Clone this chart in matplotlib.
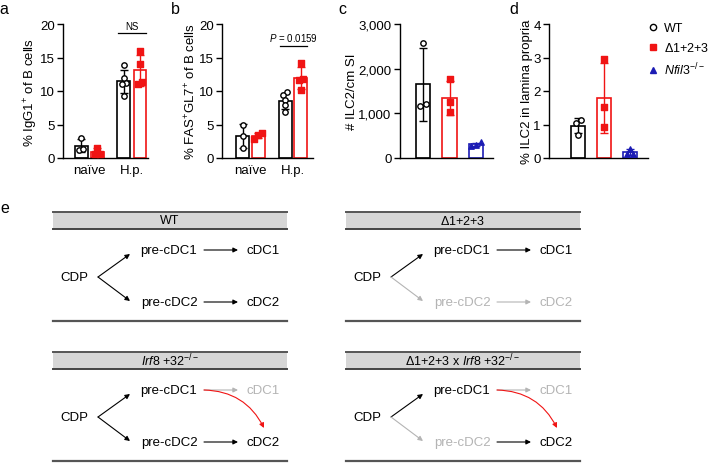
import matplotlib
matplotlib.use('Agg')
import matplotlib.pyplot as plt
import numpy as np
from matplotlib.lines import Line2D
from matplotlib.patches import Rectangle
from matplotlib.ticker import FuncFormatter

plt.rcParams['font.family'] = ['Liberation Sans', 'DejaVu Sans']
plt.rcParams['mathtext.fontset'] = 'custom'
plt.rcParams['mathtext.rm'] = 'Liberation Sans'
plt.rcParams['mathtext.it'] = 'Liberation Sans:italic'

# ---- data ----
groups_ab = ['naïve', 'H.p.']
# panel a: % IgG1+ of B cells
a_wt = [[3.0, 1.2, 1.3], [13.9, 11.9, 11.2, 11.0, 9.2]]
a_mut = [[1.5, 0.6, 0.6], [15.9, 14.0, 11.1, 11.3]]
# panel b: % FAS+GL7+ of B cells
b_wt = [[5.0, 3.3, 1.5], [9.8, 9.4, 8.7, 7.9, 6.9]]
b_mut = [[3.7, 3.4, 2.9], [14.2, 11.8, 11.6, 10.2]]
# panel c: # ILC2/cm SI
c_wt = [2580, 1160, 1200]
c_mut = [1770, 1250, 1020]
c_ko = [350, 290, 270]
# panel d: % ILC2 in lamina propria
d_wt = [1.12, 1.05, 0.70]
d_mut = [2.95, 1.52, 0.92]
d_ko = [0.28, 0.13, 0.12]

genotypes = ['WT', r'$\Delta$1+2+3', r'$\it{Nfil3}^{-/-}$']

RED = '#f01414'
BLUE = '#1c1cb4'
GREY = '#b4b4b4'
colors = ['black', RED, BLUE]
markers = ['o', 's', '^']
faces = ['white', RED, BLUE]

W, H = 713, 464
fig = plt.figure(figsize=(W / 100, H / 100), dpi=100)


def px_axes(left, top, right, bottom):
    return fig.add_axes([left / W, 1 - bottom / H, (right - left) / W, (bottom - top) / H])


def jitter(vals, thr, step):
    # spread points that sit close together, Prism style
    offs = np.zeros(len(vals))
    order = np.argsort(vals)
    i = 0
    while i < len(order):
        j = i
        while j + 1 < len(order) and vals[order[j + 1]] - vals[order[j]] < thr:
            j += 1
        n = j - i + 1
        if n > 1:
            offs[order[i:j + 1]] = (np.arange(n) - (n - 1) / 2) * step
        i = j + 1
    return offs


def bar_group(ax, x, vals, i, width, thr, step):
    vals = np.asarray(vals, float)
    m, sd = vals.mean(), vals.std(ddof=1)
    ax.bar(x, m, width, facecolor='white', edgecolor=colors[i], lw=1.2, zorder=2)
    ax.errorbar(x, m, yerr=sd, color=colors[i], capsize=3, lw=1, capthick=1, zorder=3)
    ax.scatter(x + jitter(vals, thr, step), vals, s=15, marker=markers[i],
               facecolor=faces[i], edgecolor=colors[i], lw=1, zorder=4)


def style(ax, ymax, ystep):
    ax.spines['top'].set_visible(False)
    ax.spines['right'].set_visible(False)
    ax.spines['left'].set_linewidth(1)
    ax.spines['bottom'].set_linewidth(1)
    ax.set_ylim(0, ymax)
    ax.set_yticks(np.arange(0, ymax + ystep / 2, ystep))
    ax.tick_params(axis='y', direction='out', length=4, width=1, labelsize=9.5, pad=2)
    ax.tick_params(axis='x', length=0, labelsize=9.5, pad=4)


# ---- panel a ----
ax = px_axes(63, 25, 148, 159)
for g in range(2):
    bar_group(ax, g - 0.19, a_wt[g], 0, 0.3, 0.6, 0.1)
    bar_group(ax, g + 0.19, a_mut[g], 1, 0.3, 0.6, 0.1)
ax.set_xlim(-0.62, 1.38)
ax.set_xticks(range(2))
ax.set_xticklabels(groups_ab)
style(ax, 20, 5)
ax.set_ylabel('% IgG1$^{+}$ of B cells', fontsize=9.5, labelpad=0)
ax.plot([0.67, 1.33], [18.6, 18.6], color='black', lw=0.9)
ax.text(1.0, 18.9, 'NS', ha='center', va='bottom', fontsize=7)

# ---- panel b ----
ax = px_axes(222, 25, 313, 159)
for g in range(2):
    bar_group(ax, g - 0.18, b_wt[g], 0, 0.31, 0.6, 0.1)
    bar_group(ax, g + 0.18, b_mut[g], 1, 0.31, 0.6, 0.1)
ax.set_xlim(-0.67, 1.47)
ax.set_xticks(range(2))
ax.set_xticklabels(groups_ab)
style(ax, 20, 5)
ax.set_ylabel('% FAS$^{+}$GL7$^{+}$ of B cells', fontsize=9.5, labelpad=0)
ax.plot([0.69, 1.33], [16.7, 16.7], color='black', lw=0.9)
ax.text(1.01, 17.2, r'$\it{P}$ = 0.0159', ha='center', va='bottom', fontsize=7)

# ---- panel c ----
ax = px_axes(400, 25, 493, 159)
for i, vals in enumerate([c_wt, c_mut, c_ko]):
    bar_group(ax, i, vals, i, 0.55, 120, 0.2)
ax.set_xlim(-0.87, 2.64)
ax.set_xticks([])
style(ax, 3000, 1000)
ax.yaxis.set_major_formatter(FuncFormatter(lambda v, p: f'{int(v):,}'))
ax.set_ylabel('# ILC2/cm SI', fontsize=9.5, labelpad=0)

# ---- panel d ----
ax = px_axes(549, 25, 648, 159)
for i, vals in enumerate([d_wt, d_mut, d_ko]):
    bar_group(ax, i, vals, i, 0.55, 0.12, 0.2)
ax.set_xlim(-1.12, 2.69)
ax.set_xticks([])
style(ax, 4, 1)
ax.set_ylabel('% ILC2 in lamina propria', fontsize=9.5, labelpad=0)

handles = [Line2D([], [], ls='none', marker=markers[i], markersize=4.5,
                  markerfacecolor=faces[i], markeredgecolor=colors[i], mew=1)
           for i in range(3)]
fig.legend(handles, genotypes, loc='upper left', bbox_to_anchor=(648 / W, 1 - 23 / H),
           frameon=False, fontsize=9, handlelength=0.8, handletextpad=0.5,
           labelspacing=0.55, borderaxespad=0, borderpad=0)

# ---- panel e: schematic ----
dx = fig.add_axes([0, 0, 1, 1], zorder=-1)
dx.set_xlim(0, W)
dx.set_ylim(H, 0)
dx.axis('off')
dx.patch.set_alpha(0)

for lab, (lx, ly) in zip('abcde', [(4, 9), (175, 9), (342, 9), (514, 9), (5, 209)]):
    dx.text(lx, ly, lab, fontsize=11.5, ha='center', va='center')

boxes = [
    (53, 213, 'WT', set()),
    (346, 213, r'$\Delta$1+2+3', {'low', 'pre2', 'arr2', 'c2'}),
    (53, 353, r'$\it{Irf8}$ +32$^{-/-}$', {'arr1', 'c1', 'red'}),
    (346, 353, r'$\Delta$1+2+3 x $\it{Irf8}$ +32$^{-/-}$', {'low', 'pre2', 'arr1', 'c1', 'red'}),
]


def arrow(x1, y1, x2, y2, col, **kw):
    dx.annotate('', xy=(x2, y2), xytext=(x1, y1),
                arrowprops=dict(arrowstyle='-|>', color=col, lw=0.8,
                                mutation_scale=7, shrinkA=0, shrinkB=0, **kw))


for x0, y0, title, grey in boxes:
    bw = 234
    dx.add_patch(Rectangle((x0, y0), bw, 17, facecolor='#d6d6d6', edgecolor='none'))
    dx.plot([x0, x0 + bw], [y0, y0], color='#555555', lw=1.4)
    dx.plot([x0, x0 + bw], [y0 + 17, y0 + 17], color='#444444', lw=1.4)
    dx.plot([x0, x0 + bw], [y0 + 109, y0 + 109], color='#555555', lw=1.6)
    dx.text(x0 + bw / 2, y0 + 8.5, title, ha='center', va='center', fontsize=9)

    def c(key):
        return GREY if key in grey else 'black'

    fs = 9.5
    dx.text(x0 + 21.5, y0 + 65, 'CDP', ha='center', va='center', fontsize=fs)
    dx.text(x0 + 116, y0 + 38, 'pre-cDC1', ha='center', va='center', fontsize=fs)
    dx.text(x0 + 116, y0 + 90, 'pre-cDC2', ha='center', va='center', fontsize=fs, color=c('pre2'))
    dx.text(x0 + 210, y0 + 38, 'cDC1', ha='center', va='center', fontsize=fs, color=c('c1'))
    dx.text(x0 + 210, y0 + 90, 'cDC2', ha='center', va='center', fontsize=fs, color=c('c2'))
    arrow(x0 + 45, y0 + 65, x0 + 77, y0 + 42, 'black')
    arrow(x0 + 45, y0 + 65, x0 + 77, y0 + 89, c('low'))
    arrow(x0 + 151, y0 + 38, x0 + 185, y0 + 38, c('arr1'))
    arrow(x0 + 151, y0 + 90, x0 + 185, y0 + 90, c('arr2'))
    if 'red' in grey:
        arrow(x0 + 151, y0 + 38, x0 + 211, y0 + 76, RED,
              connectionstyle='arc3,rad=-0.3')

fig.savefig('out.png', dpi=100)
